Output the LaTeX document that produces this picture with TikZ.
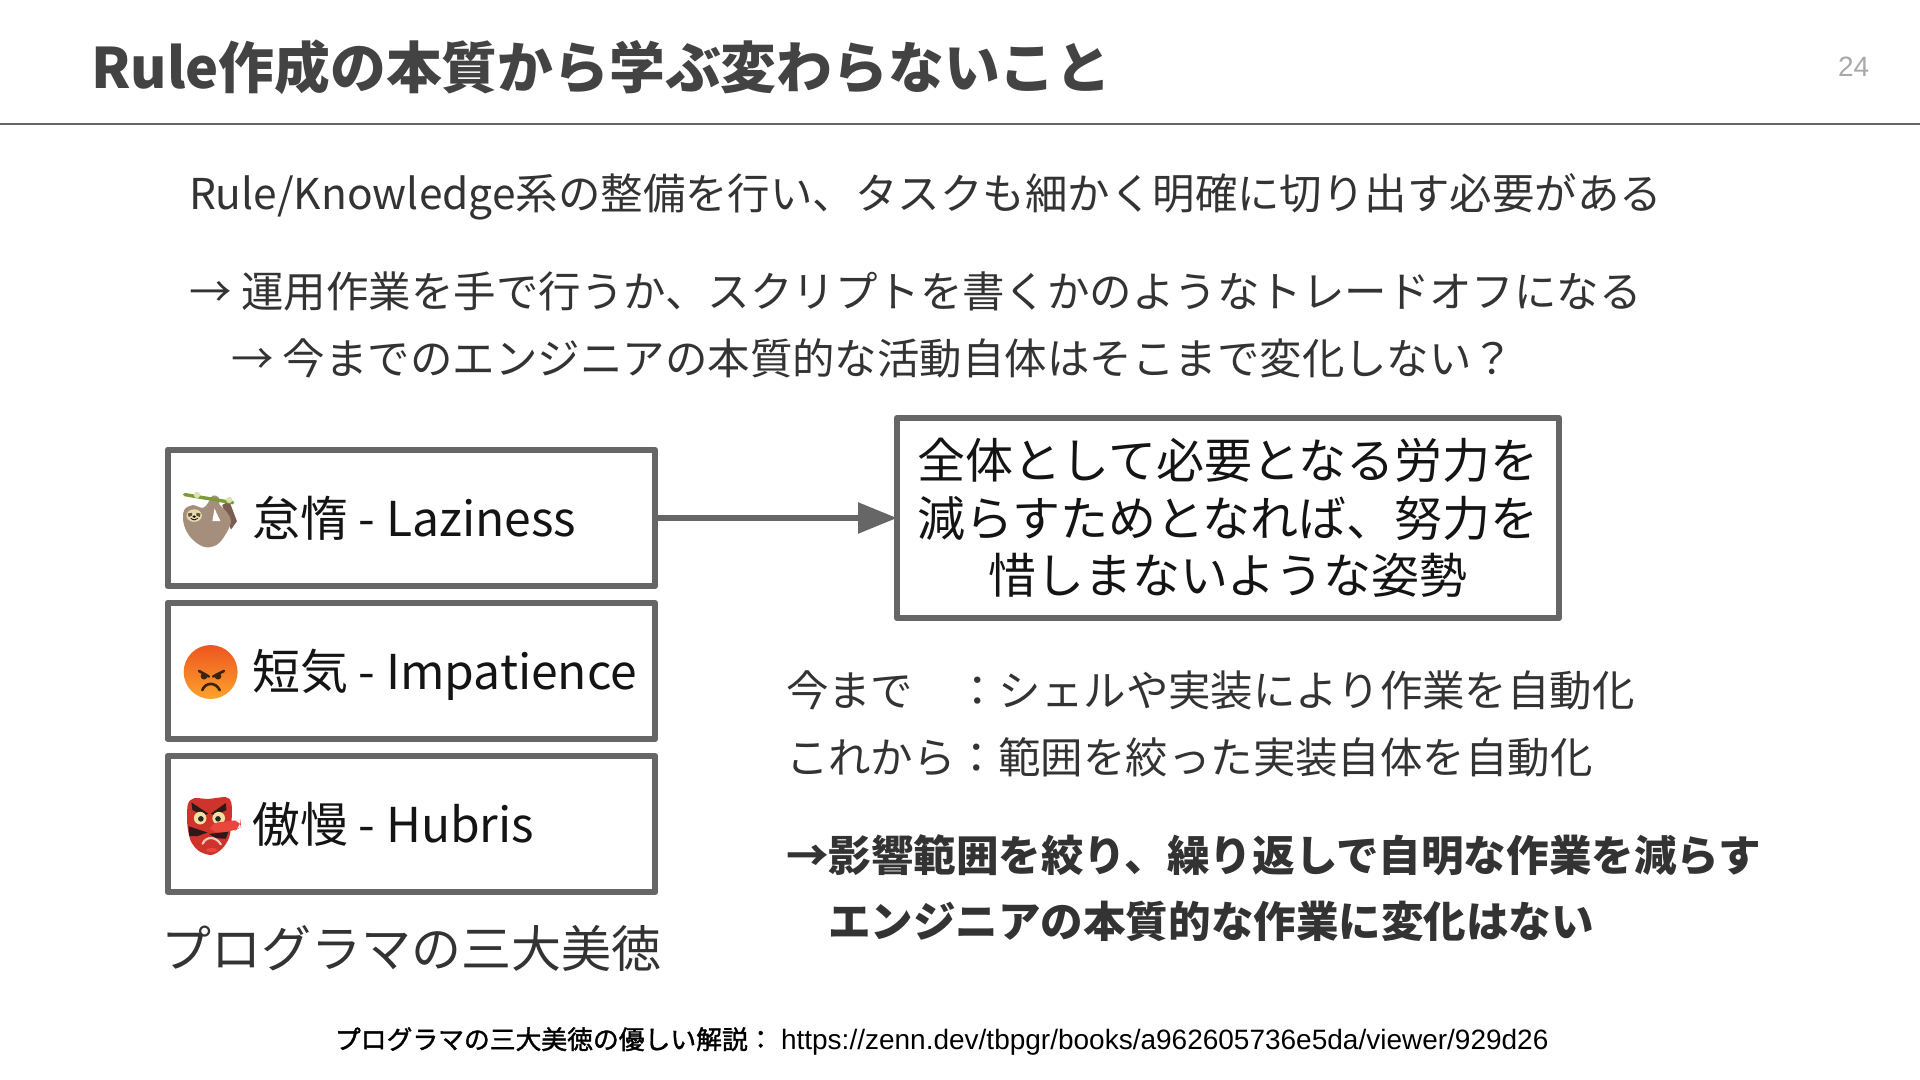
\documentclass[tikz,border=0pt]{standalone}
\usepackage{fontspec}
\setmainfont{Noto Sans CJK JP}
\newfontfamily\arialfont{Liberation Sans}
\newfontfamily\refcjk[FakeBold=1.5]{Noto Sans CJK JP}
\usetikzlibrary{arrows.meta}
\definecolor{linegray}{HTML}{666666}
\definecolor{titlegray}{HTML}{434343}
\definecolor{bodygray}{HTML}{333333}
\definecolor{pagenum}{HTML}{A8A8A8}
\definecolor{slothbody}{HTML}{A58F7C}
\definecolor{slotharm}{HTML}{7A5C50}
\definecolor{slothface}{HTML}{E8D9A8}
\definecolor{branchgreen}{HTML}{7D9A3A}
\definecolor{branchleaf}{HTML}{DDE0B0}
\definecolor{angrytop}{HTML}{EE5520}
\definecolor{angrybot}{HTML}{FCA32C}
\definecolor{angryink}{HTML}{3A2410}
\definecolor{tenguface}{HTML}{CE342C}
\definecolor{tengunose}{HTML}{E8483C}
\definecolor{tenguink}{HTML}{2A1A1A}
\definecolor{tengueye}{HTML}{F3DFA0}
\definecolor{tengulip}{HTML}{F5C8B8}
\tikzset{
  px/.style={x=0.5pt,y=-0.5pt},
  zoomed/.style={x=0.175pt,y=-0.175pt},
  lbl/.style={anchor=base west,inner sep=0pt,outer sep=0pt},
  titletxt/.style={lbl,text=titlegray,font=\fontsize{27.9}{32}\selectfont\bfseries},
  bodytxt/.style={lbl,text=bodygray,font=\fontsize{21.23}{25}\selectfont},
  boldtxt/.style={lbl,text=bodygray,font=\fontsize{21.28}{25}\selectfont\bfseries},
  virtue/.style={lbl,text=black!92,font=\fontsize{24}{28}\selectfont},
  virtuebox/.style={draw=linegray,line width=3pt,line join=round,rectangle,inner sep=0pt,minimum width=243.75pt,minimum height=68.3pt},
  ruleline/.style={draw=linegray,line width=0.75pt},
  connector/.style={draw=linegray,line width=2.8pt,shorten >=-1.5pt,-{Triangle[length=19.5pt,width=15pt]}}
}
\begin{document}
\begin{tikzpicture}[px]
\useasboundingbox (0,0) rectangle (1920,1080);
\fill[white] (0,0) rectangle (1920,1080);
\coordinate (ruleL) at (0,124);
\coordinate (ruleR) at (1920,124);
\draw[ruleline] (ruleL) -- (ruleR);
\node[titletxt] (title) at (91,89) {Rule作成の本質から学ぶ変わらないこと};
\node[lbl,text=pagenum,font=\fontsize{14}{16}\selectfont\arialfont] (pageno) at (1838,77) {24};
\node[bodytxt] (l1) at (189,210) {Rule/Knowledge系の整備を行い、タスクも細かく明確に切り出す必要がある};
\node[bodytxt] (l2) at (189.5,308) {→ 運用作業を手で行うか、スクリプトを書くかのようなトレードオフになる};
\node[bodytxt] (l3) at (231,374) {→ 今までのエンジニアの本質的な活動自体はそこまで変化しない？};
% boxes
\node[virtuebox] (b1) at (411.25,518) {};
\node[virtuebox] (b2) at (411.25,671) {};
\node[virtuebox] (b3) at (411.25,824) {};
\node[draw=linegray,line width=3pt,line join=round,rectangle,inner sep=0pt,minimum width=331pt,minimum height=100.35pt,align=center,text=black!92,font=\fontsize{24}{28.75}\selectfont] (goal) at (1228,518) {全体として必要となる労力を\\減らすためとなれば、努力を\\惜しまないような姿勢};
\draw[connector] (b1) -- (goal);
\node[virtue] (t1) at (252,536) {怠惰 - Laziness};
\node[virtue] (t2) at (252,689) {短気 - Impatience};
\node[virtue] (t3) at (252,842) {傲慢 - Hubris};
\node[lbl,text=bodygray,font=\fontsize{25}{28}\selectfont] (cap) at (161,967.5) {プログラマの三大美徳};
% sloth emoji
\begin{scope}[shift={(173.2,483.4)},zoomed]
  \fill[slotharm] (140,62) -- (160,50) -- (182,108) -- (165,132) -- cycle;
  \fill[slothbody] plot[smooth cycle,tension=0.6] coordinates {(32,75) (55,62) (85,70) (100,55) (113,35) (130,40) (132,60) (150,78) (165,108) (150,145) (125,175) (90,182) (55,160) (35,130) (28,100)};
  \fill[white] (118,72) -- (135,108) -- (112,108) -- cycle;
  \draw[branchgreen,line width=1.7pt,line cap=round] (33,32) -- (170,55);
  \fill[branchleaf] (68,33) circle (9) (160,47) circle (9);
  \fill[slothface] (60,92) ellipse (22 and 18);
  \fill[angryink!80] (42,86) -- (54,84) -- (54,92) -- (44,96) -- cycle (78,86) -- (66,84) -- (66,92) -- (76,96) -- cycle;
  \fill[black] (60,95) ellipse (5 and 3.5);
  \draw[black,line width=0.4pt] (50,100) .. controls (56,106) and (64,106) .. (70,100);
\end{scope}
% angry emoji
\begin{scope}[shift={(173.2,638.4)},zoomed]
  \shade[top color=angrytop,bottom color=angrybot] (107,96) circle (77);
  \fill[angryink] (88,108) circle (9.5) (128,108) circle (9.5);
  \draw[angryink,line width=1.3pt,line cap=round] (74,93) -- (102,109);
  \draw[angryink,line width=1.3pt,line cap=round] (145,93) -- (114,109);
  \draw[angryink,line width=1.3pt,line cap=round] (83,148) .. controls (92,124) and (122,124) .. (133,148);
\end{scope}
% tengu emoji
\begin{scope}[shift={(173.2,788.4)},zoomed]
  \fill[tenguface] plot[smooth cycle,tension=0.5] coordinates {(42,45) (60,28) (100,30) (150,25) (166,40) (167,90) (160,140) (140,172) (110,190) (75,180) (50,150) (40,100)};
  \fill[tenguink] (52,40) -- (100,72) -- (88,78) -- (55,62) -- cycle;
  \fill[tenguink] (150,42) -- (108,72) -- (118,78) -- (152,62) -- cycle;
  \fill[tengueye] (77,85) circle (18) (130,85) circle (18);
  \fill[black!85] (79,87) circle (8) (128,87) circle (8);
  \fill[tengunose,rounded corners=4pt] (104,100) -- (170,92) -- (192,90) -- (194,110) -- (174,122) -- (108,128) -- cycle;
  \fill[tenguink] (44,108) -- (98,126) -- (70,136) -- (46,136) -- cycle;
  \fill[tenguink] (102,130) -- (158,124) -- (150,144) -- (122,142) -- cycle;
  \draw[tengulip,line width=1.1pt,line cap=round] (84,158) .. controls (94,136) and (122,136) .. (136,160);
  \fill[tengunose] (110,176) ellipse (16 and 6);
\end{scope}
% right text
\node[bodytxt] (now) at (786,706.5) {今まで\hspace{1.01em}：シェルや実装により作業を自動化};
\node[bodytxt] (next) at (786,773) {これから：範囲を絞った実装自体を自動化};
\node[boldtxt] (c1) at (786,871) {→影響範囲を絞り、繰り返しで自明な作業を減らす};
\node[boldtxt] (c2) at (828,937) {エンジニアの本質的な作業に変化はない};
\node[lbl,text=black,font=\fontsize{12.9}{15}\selectfont\refcjk] (ref) at (335,1049) {プログラマの三大美徳の優しい解説：};
\node[lbl,text=black,font=\fontsize{14}{15}\selectfont\arialfont] (url) at (781,1049) {https://zenn.dev/tbpgr/books/a962605736e5da/viewer/929d26};
\end{tikzpicture}
\end{document}
